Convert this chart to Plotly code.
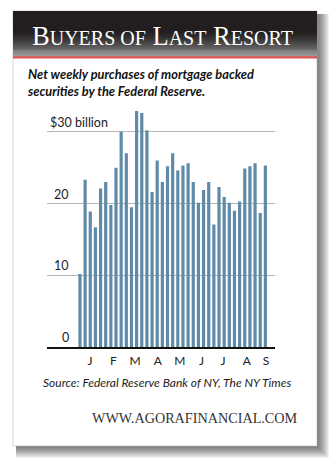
import plotly.graph_objects as go

# ---- data ----
weeks = list(range(37))
purchases = [10.2, 23.3, 18.9, 16.7, 22.1, 23.0, 19.8, 25.0, 30.0, 27.0,
             19.5, 32.9, 32.6, 30.2, 21.6, 26.0, 23.0, 25.2, 27.0, 24.6,
             25.3, 25.6, 23.0, 20.1, 21.9, 23.0, 17.1, 22.3, 20.9, 20.1,
             19.0, 20.3, 24.9, 25.2, 25.6, 18.7, 25.3]
month_labels = ["J", "F", "M", "A", "M", "J", "J", "A", "S"]
month_weeks = [1.94, 6.5, 10.7, 15.1, 19.4, 23.6, 27.8, 32.4, 36.1]
y_ticks = [0, 10, 20, 30]
y_ticktext = ["0", "10", "20", "$30 billion"]

W, H = 336, 467
def px(x):
    return x / W
def py(y):
    return 1 - y / H

shapes = []
# shadow
for k in range(1, 13):
    shapes.append(dict(type="rect", xref="paper", yref="paper", layer="below",
                       x0=px(16), x1=px(317 + k), y0=py(446 + k), y1=py(14),
                       fillcolor="rgba(0,0,0,0.055)", line=dict(width=0)))
# card
shapes.append(dict(type="rect", xref="paper", yref="paper", layer="below",
                   x0=px(13), x1=px(317), y0=py(446), y1=py(11),
                   fillcolor="white", line=dict(color="#bbbbbb", width=0.6)))
# header gradient
top, bot = 11, 56.5
n = 46
c0 = (35, 31, 32)
c1 = (140, 140, 140)
for i in range(n):
    t = i / (n - 1)
    f = max(0.0, (t - 0.45) / 0.55) ** 1.3
    col = tuple(int(c0[j] + (c1[j] - c0[j]) * f) for j in range(3))
    y0 = top + (bot - top) * i / n
    y1 = top + (bot - top) * (i + 1) / n
    shapes.append(dict(type="rect", xref="paper", yref="paper", layer="below",
                       x0=px(13), x1=px(317), y0=py(y1 + 0.3), y1=py(y0),
                       fillcolor="rgb(%d,%d,%d)" % col, line=dict(width=0)))
# red rule
shapes.append(dict(type="rect", xref="paper", yref="paper", layer="below",
                   x0=px(13), x1=px(317), y0=py(58.5), y1=py(56.3),
                   fillcolor="#e0524f", line=dict(width=0)))

fig = go.Figure()
fig.add_trace(go.Bar(x=weeks, y=purchases, marker=dict(color="#5f8ba8",
                     line=dict(width=0)), hoverinfo="skip"))

annotations = []
sc = "font-size:20px"
title = ("B<span style='%s'>UYERS OF</span> L<span style='%s'>AST</span> "
         "R<span style='%s'>ESORT</span>") % (sc, sc, sc)
annotations.append(dict(text=title, xref="paper", yref="paper", x=px(162.5), y=py(36),
                        xanchor="center", yanchor="middle", showarrow=False,
                        font=dict(family="Liberation Serif", size=26.5, color="white")))
annotations.append(dict(text="<b><i>Net weekly purchases of mortgage backed<br>securities by the Federal Reserve.</i></b>",
                        xref="paper", yref="paper", x=px(25), y=py(82),
                        xanchor="left", yanchor="middle", align="left", showarrow=False,
                        font=dict(family="Lato", size=12.8, color="#111"),
                        ))
for v, t in zip(y_ticks, y_ticktext):
    if t.startswith("$"):
        annotations.append(dict(text=t, xref="paper", yref="y", x=px(48), y=v,
                                xanchor="left", yanchor="bottom", showarrow=False,
                                font=dict(family="Lato", size=12.5, color="#222")))
    else:
        annotations.append(dict(text=t, xref="paper", yref="y", x=px(71), y=v,
                                xanchor="right", yanchor="bottom", showarrow=False,
                                font=dict(family="Lato", size=12.5, color="#222")))
annotations.append(dict(text="<i>Source: Federal Reserve Bank of NY, The NY Times</i>",
                        xref="paper", yref="paper", x=px(167), y=py(382),
                        xanchor="center", yanchor="middle", showarrow=False,
                        font=dict(family="Lato", size=12, color="#222")))
annotations.append(dict(text="WWW.AGORAFINANCIAL.COM",
                        xref="paper", yref="paper", x=px(300), y=py(418),
                        xanchor="right", yanchor="middle", showarrow=False,
                        font=dict(family="Liberation Serif", size=14.2, color="#333")))

fig.update_layout(
    width=W, height=H, autosize=False,
    margin=dict(l=0, r=0, t=0, b=0),
    paper_bgcolor="white", plot_bgcolor="rgba(0,0,0,0)",
    showlegend=False, bargap=0.38,
    shapes=shapes, annotations=annotations,
    xaxis=dict(domain=[px(47), px(275)], range=[-6.4, 37.87],
               tickmode="array", tickvals=month_weeks, ticktext=month_labels,
               showline=True, linecolor="#111", linewidth=1.5,
               showgrid=False, zeroline=False, ticks="", ticklabelstandoff=2,
               tickfont=dict(family="Lato", size=12, color="#222")),
    yaxis=dict(domain=[py(347.3), py(95.8)], range=[0, 35],
               tickvals=y_ticks, showticklabels=False,
               showgrid=True, gridcolor="#b5b5b5", gridwidth=1,
               zeroline=False, showline=False),
)

fig.write_html("out.html")
